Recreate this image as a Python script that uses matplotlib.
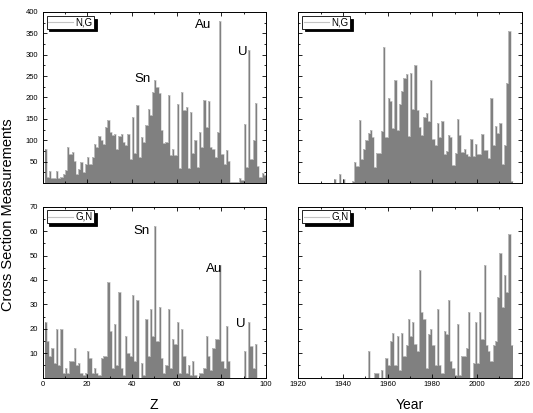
import numpy as np
import matplotlib
matplotlib.use("Agg")
import matplotlib.pyplot as plt
from matplotlib.lines import Line2D
from matplotlib.ticker import MultipleLocator, FixedLocator

plt.rcParams['font.family'] = ['Liberation Sans', 'DejaVu Sans']

# ---------------- data ----------------
z_values = list(range(1, 100))
ng_by_z = [80, 15, 28, 12, 12, 28, 12, 15, 20, 30,
           85, 68, 72, 52, 20, 32, 50, 25, 45, 60,
           45, 60, 92, 85, 110, 100, 92, 132, 148, 120,
           112, 115, 80, 110, 115, 95, 88, 115, 55, 155,
           70, 182, 60, 107, 95, 135, 172, 160, 212, 240,
           225, 210, 125, 93, 95, 205, 65, 80, 65, 185,
           35, 213, 170, 178, 35, 167, 70, 100, 37, 120,
           85, 193, 130, 192, 85, 80, 60, 120, 380, 68,
           45, 78, 52, 3, 3, 3, 3, 12, 8, 138,
           37, 310, 55, 100, 188, 40, 15, 23, 18]
gn_by_z = [23, 15, 9, 12, 6, 20, 5, 20, 2, 4,
           2, 7, 7, 12, 5, 6, 2, 1, 2, 11,
           8, 2, 4, 2, 1, 8, 9, 9, 39, 19,
           4, 22, 5, 35, 4, 1, 17, 10, 9, 34,
           7, 32, 0, 6, 1, 24, 9, 28, 17, 62,
           15, 29, 8, 2, 5, 28, 4, 16, 14, 23,
           2, 20, 9, 2, 5, 1, 7, 1, 0, 2,
           2, 4, 17, 9, 3, 12, 16, 16, 46, 7,
           4, 21, 7, 0, 0, 0, 0, 0, 0, 11,
           0, 23, 13, 4, 14, 0, 0, 0, 0]

years = list(range(1936, 2016))
ng_by_year = [9, 0, 22, 0, 10, 0, 0, 0, 5, 48,
              40, 148, 57, 80, 101, 117, 124, 108, 38, 71,
              71, 122, 317, 108, 198, 192, 128, 240, 124, 185,
              215, 245, 255, 110, 258, 172, 277, 170, 130, 112,
              155, 163, 145, 240, 103, 90, 140, 108, 145, 69,
              75, 113, 108, 42, 70, 150, 113, 73, 79, 68,
              62, 104, 62, 92, 68, 68, 114, 77, 77, 58,
              198, 89, 134, 116, 140, 44, 88, 235, 355, 5]
gn_by_year = [0, 0, 0, 0, 0, 0, 0, 0, 0, 0,
              0, 0, 0, 0, 0, 11, 0, 0, 2, 2,
              0, 3, 0, 8, 5, 15, 18.5, 5, 17, 3,
              18.5, 9, 13.5, 24, 17, 23, 14, 11, 44, 27,
              24, 4, 18, 20, 13.5, 5, 28, 5, 2, 19,
              18, 32, 7, 4, 1, 22, 1, 9, 9, 12,
              27, 0, 6, 23, 6, 27, 16, 46, 13.5, 11,
              7, 13.5, 15, 33, 51, 29, 42, 35, 59, 13.5]

top_labels = {"Sn": (44.7, 243), "Au": (72.0, 370), "U": (89.6, 307)}
bot_labels = {"Sn": (44.3, 60), "Au": (76.6, 44.5), "U": (88.5, 21.8)}

# ---------------- layout ----------------
W, H = 533, 413
fig = plt.figure(figsize=(W / 100, H / 100), dpi=100)

def frac(x0, x1, ytop, ybot):
    return [x0 / W, 1 - ybot / H, (x1 - x0) / W, (ybot - ytop) / H]

ax_tl = fig.add_axes(frac(42.5, 266, 12, 183))
ax_tr = fig.add_axes(frac(298.3, 521.7, 12, 183))
ax_bl = fig.add_axes(frac(42.5, 266, 206.7, 377.7))
ax_br = fig.add_axes(frac(298.3, 521.7, 206.7, 377.7))

BAR = '#808080'
EDGE = '#d4d4d4'

def draw_hist(ax, xs, vals):
    xs = np.asarray(xs, dtype=float)
    vals = np.asarray(vals, dtype=float)
    ax.bar(xs, vals, width=1.0, align='edge', color=BAR, linewidth=0)
    edges = np.append(xs, xs[-1] + 1)
    ax.stairs(vals, edges, color=EDGE, linewidth=0.5, baseline=None)

def style(ax, ymax, ymaj, ymin, xlim, xmaj, xmin, ylabels, xlabels, legend_text):
    ax.set_xlim(*xlim)
    ax.set_ylim(0, ymax)
    ax.xaxis.set_major_locator(MultipleLocator(xmaj))
    ax.xaxis.set_minor_locator(MultipleLocator(xmin))
    ax.yaxis.set_major_locator(FixedLocator(list(np.arange(ymaj, ymax + 0.1, ymaj))))
    ax.yaxis.set_minor_locator(MultipleLocator(ymin))
    ax.tick_params(which='both', direction='in', top=True, right=True,
                   width=0.6, colors='black', labelsize=5.5, pad=2.5)
    ax.tick_params(which='major', length=3)
    ax.tick_params(which='minor', length=1.6)
    ax.tick_params(axis='y', pad=3)
    if not ylabels:
        ax.tick_params(axis='y', labelleft=False)
    if not xlabels:
        ax.tick_params(axis='x', labelbottom=False)
    for s in ax.spines.values():
        s.set_linewidth(0.7)
        s.set_color('black')
    h = Line2D([], [], color='#c4c4c4', lw=0.8)
    leg = ax.legend(handles=[h], labels=[legend_text], loc='upper left',
                    bbox_to_anchor=(0.018, 0.978), borderaxespad=0,
                    fontsize=7, frameon=True, fancybox=False,
                    shadow={'color': 'black', 'alpha': 1},
                    handlelength=2.6, handletextpad=0.25, borderpad=0.15,
                    framealpha=1)
    leg.get_frame().set_edgecolor('black')
    leg.get_frame().set_linewidth(0.6)

draw_hist(ax_tl, z_values, ng_by_z)
draw_hist(ax_bl, z_values, gn_by_z)
draw_hist(ax_tr, years, ng_by_year)
draw_hist(ax_br, years, gn_by_year)

style(ax_tl, 400, 50, 25, (0, 100), 20, 10, True, False, 'N,G')
style(ax_bl, 70, 10, 5, (0, 100), 20, 10, True, True, 'G,N')
style(ax_tr, 400, 50, 25, (1920, 2020), 20, 10, False, False, 'N,G')
style(ax_br, 70, 10, 5, (1920, 2020), 20, 10, False, True, 'G,N')

for name, (x, y) in top_labels.items():
    ax_tl.text(x, y, name, fontsize=9.5, ha='center', va='center')
for name, (x, y) in bot_labels.items():
    ax_bl.text(x, y, name, fontsize=9.5, ha='center', va='center')

ax_bl.set_xlabel('Z', fontsize=10, va='center')
ax_bl.xaxis.set_label_coords(0.5, -27 / 171)
ax_br.set_xlabel('Year', fontsize=10, va='center')
ax_br.xaxis.set_label_coords(0.5, -27 / 171)

fig.text(1.5 / W, 1 - 215 / H, 'Cross Section Measurements', rotation=90,
         fontsize=10.5, ha='left', va='center')

fig.savefig('out.png', dpi=100)
